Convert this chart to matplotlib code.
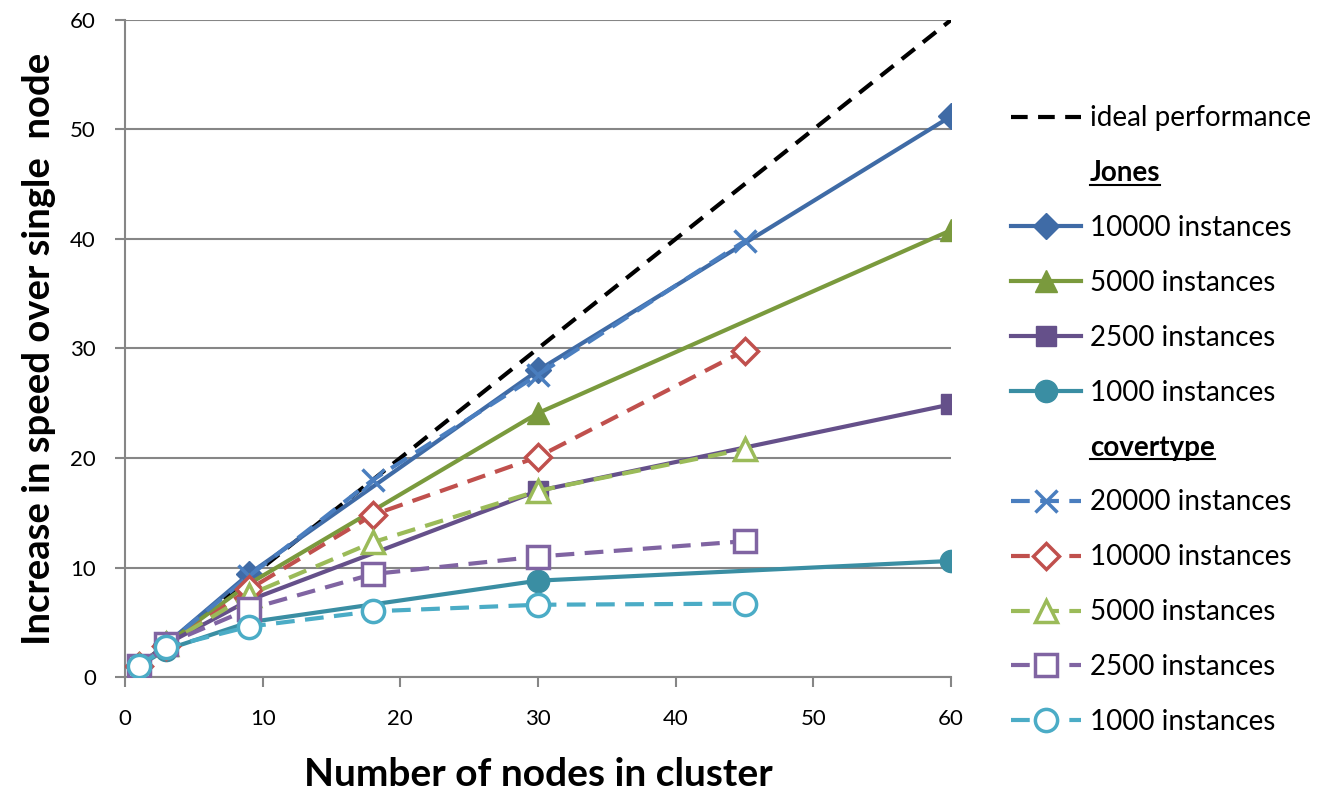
import matplotlib
matplotlib.use("Agg")
import matplotlib.pyplot as plt
from matplotlib.lines import Line2D

plt.rcParams['font.family'] = ['Lato', 'DejaVu Sans']

# ideal performance
ideal_x = [1, 60]
ideal_y = [1, 60]

# Jones
jones_x = [1, 3, 9, 30, 60]
jones_10000 = [1, 3, 9.4, 28.0, 51.2]
jones_5000 = [1, 3, 8.5, 24.1, 40.8]
jones_2500 = [1, 3, 7.0, 17.0, 24.9]
jones_1000 = [1, 2.5, 5.0, 8.8, 10.6]

# covertype
cov_x = [1, 3, 9, 18, 30, 45]
cov_20000 = [1, 3, 9.2, 18.0, 27.6, 39.8]
cov_10000 = [1, 2.8, 8.0, 14.8, 20.1, 29.8]
cov_5000 = [1, 3, 7.5, 12.3, 17.0, 20.8]
cov_2500 = [1, 3, 6.2, 9.4, 11.0, 12.4]
cov_1000 = [1, 2.7, 4.6, 6.0, 6.6, 6.7]

fig = plt.figure(figsize=(13.29, 7.98), dpi=100)
ax = fig.add_axes([0.094, 0.1516, 0.6216, 0.8234])

lw = 3
dash = (0, (4.5, 2.5))
h_ideal, = ax.plot(ideal_x, ideal_y, color='black', lw=lw, ls=(0, (4, 2.5)), zorder=2)

jones = [
    (jones_10000, '#3F6BA6', 'D', 13),
    (jones_5000, '#7A9A3D', '^', 16),
    (jones_2500, '#65508A', 's', 15),
    (jones_1000, '#3A8EA3', 'o', 16),
]
h_jones = []
for ys, c, m, ms in jones:
    h, = ax.plot(jones_x, ys, color=c, lw=lw, marker=m, ms=ms, mfc=c, mec=c, zorder=3)
    h_jones.append(h)

cov = [
    (cov_20000, '#4A7EBF', 'x', 16),
    (cov_10000, '#C0504D', 'D', 13),
    (cov_5000, '#9BBB59', '^', 16),
    (cov_2500, '#8064A2', 's', 16),
    (cov_1000, '#4BACC6', 'o', 16),
]
h_cov = []
for ys, c, m, ms in cov:
    h, = ax.plot(cov_x, ys, color=c, lw=lw, ls=dash, marker=m, ms=ms, mfc='white',
                 mec=c, mew=2.5, zorder=4)
    h_cov.append(h)

ax.set_xlim(0, 60)
ax.set_ylim(0, 60)
ax.set_xticks(range(0, 61, 10))
ax.set_yticks(range(0, 61, 10))
ax.grid(axis='y', color='#868686', lw=1.5)
ax.set_axisbelow(True)
for s in ['top', 'right']:
    ax.spines[s].set_visible(False)
for s in ['left', 'bottom']:
    ax.spines[s].set_color('#868686')
    ax.spines[s].set_linewidth(1.5)
ax.tick_params(colors='#868686', width=1.5, length=7, labelsize=16, labelcolor='black')
ax.tick_params(axis='x', pad=16)
ax.tick_params(axis='y', pad=14)
ax.set_xlabel('Number of nodes in cluster', fontsize=28, fontweight='bold', labelpad=20)
ax.set_ylabel('Increase in speed over single  node', fontsize=27.5, fontweight='bold', labelpad=10)

blank = Line2D([], [], ls='none')
handles = [h_ideal, blank] + h_jones + [blank] + h_cov
labels = ['ideal performance', 'Jones',
          '10000 instances', '5000 instances', '2500 instances', '1000 instances',
          'covertype',
          '20000 instances', '10000 instances', '5000 instances', '2500 instances',
          '1000 instances']
leg = fig.legend(handles, labels, loc='upper left', bbox_to_anchor=(0.752, 0.882),
                 frameon=False, fontsize=20, handlelength=2.55, handletextpad=0.3,
                 labelspacing=1.04, borderaxespad=0)
texts = leg.get_texts()
heads = [texts[1], texts[6]]
for t in heads:
    t.set_fontweight('bold')

fig.canvas.draw()
inv = fig.transFigure.inverted()
for t in heads:
    bb = t.get_window_extent()
    (x0, y0), (x1, y1) = inv.transform([(bb.x0, bb.y0), (bb.x1, bb.y0)])
    fig.add_artist(Line2D([x0, x1], [y0 + 0.002, y1 + 0.002], color='black', lw=1.5,
                          transform=fig.transFigure))

fig.savefig('out.png', dpi=100)
